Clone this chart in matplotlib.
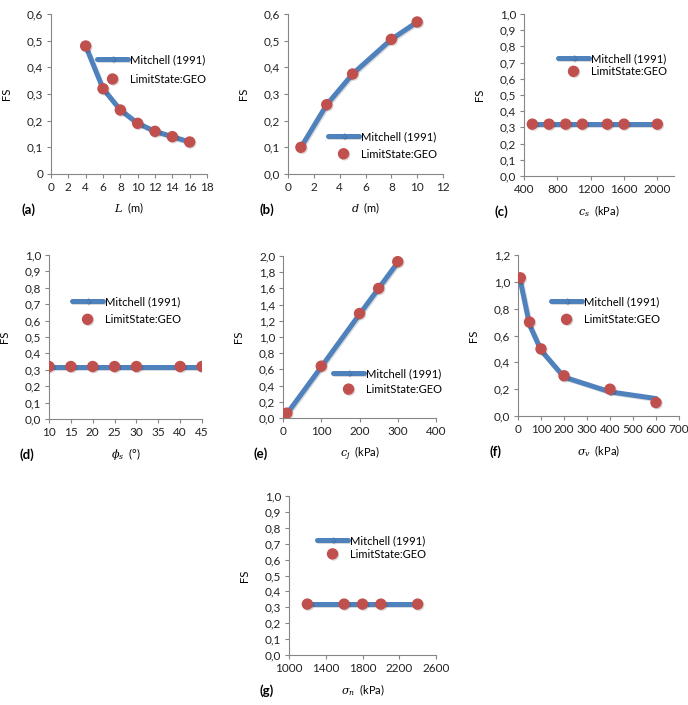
import matplotlib
matplotlib.use('Agg')
import matplotlib.pyplot as plt
import matplotlib.patheffects as pe
from matplotlib.ticker import FuncFormatter

# (a) length L (m)
L_vals = [4, 6, 8, 10, 12, 14, 16]
L_mitchell = [0.48, 0.32, 0.24, 0.19, 0.16, 0.14, 0.12]
L_geo = [0.48, 0.32, 0.24, 0.19, 0.16, 0.14, 0.12]

# (b) diameter d (m)
d_vals = [1, 3, 5, 8, 10]
d_mitchell = [0.10, 0.26, 0.375, 0.505, 0.57]
d_geo = [0.10, 0.26, 0.375, 0.505, 0.57]

# (c) c_s (kPa)
cs_vals = [500, 700, 900, 1100, 1400, 1600, 2000]
cs_mitchell = [0.32, 0.32, 0.32, 0.32, 0.32, 0.32, 0.32]
cs_geo = [0.32, 0.32, 0.32, 0.32, 0.32, 0.32, 0.32]

# (d) phi_s (deg)
phi_vals = [10, 15, 20, 25, 30, 40, 45]
phi_mitchell = [0.32, 0.32, 0.32, 0.32, 0.32, 0.32, 0.32]
phi_geo = [0.32, 0.32, 0.32, 0.32, 0.32, 0.32, 0.32]

# (e) c_j (kPa)
cj_vals = [10, 100, 200, 250, 300]
cj_mitchell = [0.05, 0.63, 1.28, 1.60, 1.92]
cj_geo = [0.06, 0.64, 1.29, 1.60, 1.93]

# (f) sigma_v (kPa)
sv_vals = [10, 50, 100, 200, 400, 600]
sv_mitchell = [1.01, 0.68, 0.49, 0.29, 0.18, 0.13]
sv_geo = [1.03, 0.70, 0.50, 0.30, 0.20, 0.10]

# (g) sigma_n (kPa)
sn_vals = [1200, 1600, 1800, 2000, 2400]
sn_mitchell = [0.32, 0.32, 0.32, 0.32, 0.32]
sn_geo = [0.32, 0.32, 0.32, 0.32, 0.32]

W, H = 688, 705
BLUE = '#4F81BD'
RED = '#C0504D'
GREY = '#868686'

plt.rcParams['font.family'] = ['Lato', 'DejaVu Sans']
plt.rcParams['font.size'] = 8
plt.rcParams['mathtext.fontset'] = 'dejavuserif'

fig = plt.figure(figsize=(W / 100, H / 100), dpi=100)


def comma(fmt):
    return FuncFormatter(lambda v, p: fmt(v).replace('.', ','))


def panel(box, x, mitchell, geo, xlim, xticks, ylim, yticks, xlabel, tag,
          leg_xy, leg_gap, yfmt):
    x0, x1, ytop, ybot = box
    ax = fig.add_axes([x0 / W, 1 - ybot / H, (x1 - x0) / W, (ybot - ytop) / H])
    shadow = [pe.SimpleLineShadow(offset=(0.8, -0.8), alpha=0.15, shadow_color='k'), pe.Normal()]
    ax.plot(x, mitchell, color=BLUE, linewidth=3.6, marker='+', markersize=4,
            markeredgewidth=1, solid_capstyle='round', label='Mitchell (1991)',
            path_effects=shadow, zorder=2)
    ax.plot(x, geo, linestyle='none', marker='o', markersize=7.2, color=RED,
            markeredgecolor=RED, label='LimitState:GEO',
            path_effects=shadow, zorder=3)
    ax.set_xlim(xlim)
    ax.set_ylim(ylim)
    ax.set_xticks(xticks)
    ax.set_yticks(yticks)
    ax.yaxis.set_major_formatter(comma(yfmt))
    for s in ['top', 'right']:
        ax.spines[s].set_visible(False)
    for s in ['left', 'bottom']:
        ax.spines[s].set_color(GREY)
        ax.spines[s].set_linewidth(0.8)
    ax.tick_params(colors=GREY, labelcolor='#222222', length=3, width=0.8,
                   labelsize=8.5, pad=2.5)
    ax.set_xlabel(xlabel, fontsize=8, labelpad=6)
    ax.set_ylabel('FS', fontsize=8)
    ax.yaxis.set_label_coords(-39 / (x1 - x0), 0.5)
    ax.set_facecolor('none')
    fig.text((x0 - 29) / W, 1 - (ybot + 36) / H, tag, fontsize=9.5,
             fontweight='bold', va='center', ha='left')
    lx, ly = leg_xy
    ax.legend(loc='upper left', bbox_to_anchor=(lx / W, 1 - ly / H),
              bbox_transform=fig.transFigure, frameon=False, borderpad=0,
              borderaxespad=0, handlelength=2.8, handletextpad=0.2,
              labelspacing=leg_gap, fontsize=8)
    return ax


panel((51, 207, 14, 174), L_vals, L_mitchell, L_geo, (0, 18), range(0, 19, 2),
      (0, 0.6), [0, 0.1, 0.2, 0.3, 0.4, 0.5, 0.6], '$L$  (m)', '(a)',
      (97, 54), 0.8, lambda v: f'{v:g}')
panel((288, 443, 14, 174), d_vals, d_mitchell, d_geo, (0, 12), range(0, 13, 2),
      (0, 0.6), [0, 0.1, 0.2, 0.3, 0.4, 0.5, 0.6], '$d$  (m)', '(b)',
      (328, 131), 0.6, lambda v: f'{v:.1f}')
panel((524, 674, 14, 176), cs_vals, cs_mitchell, cs_geo, (400, 2200),
      range(400, 2001, 400), (0, 1.0), [i / 10 for i in range(11)],
      '$c_s$  (kPa)', '(c)', (558, 53), 0.2, lambda v: f'{v:.1f}')
panel((49, 202, 255, 419), phi_vals, phi_mitchell, phi_geo, (10, 45),
      range(10, 46, 5), (0, 1.0), [i / 10 for i in range(11)],
      r'$\phi_s$  (°)', '(d)', (72, 296), 0.65, lambda v: f'{v:.1f}')
panel((283, 436, 256, 418), cj_vals, cj_mitchell, cj_geo, (0, 400),
      range(0, 401, 100), (0, 2.0), [i / 5 for i in range(11)],
      '$c_j$  (kPa)', '(e)', (333, 368), 0.45, lambda v: f'{v:.1f}')
panel((518, 679, 255, 416), sv_vals, sv_mitchell, sv_geo, (0, 700),
      range(0, 701, 100), (0, 1.2), [0, 0.2, 0.4, 0.6, 0.8, 1.0, 1.2],
      r'$\sigma_v$  (kPa)', '(f)', (551, 296), 0.65, lambda v: f'{v:.1f}')
panel((289, 436, 496, 655), sn_vals, sn_mitchell, sn_geo, (1000, 2600),
      range(1000, 2601, 400), (0, 1.0), [i / 10 for i in range(11)],
      r'$\sigma_n$  (kPa)', '(g)', (317, 535), 0.25, lambda v: f'{v:.1f}')

fig.savefig('out.png', dpi=100)
